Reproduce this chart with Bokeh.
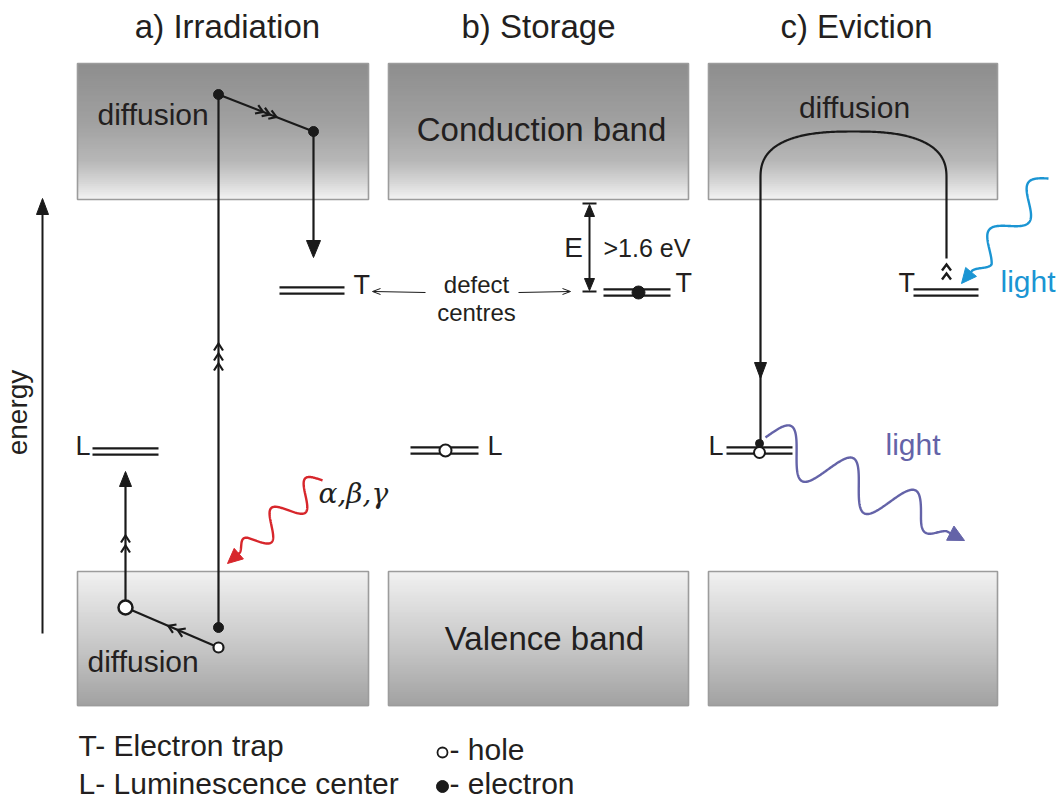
import numpy as np
from bokeh.plotting import figure
from bokeh.models import Range1d
from bokeh.core.properties import value
from bokeh.embed import file_html
from bokeh.resources import INLINE

# ---------------- content ----------------
panel_titles = ["a) Irradiation", "b) Storage", "c) Eviction"]
title_x = [227, 538, 856]
panel_left = [77, 388, 708]
panel_right = [368, 688, 997]
conduction_band = [63, 199]
valence_band = [571, 705]
band_labels = ["Conduction band", "Valence band"]
legend_left = ["T- Electron trap", "L- Luminescence center"]
legend_right = ["- hole", "- electron"]
gap_label = ">1.6 eV"
defect_label = ["defect", "centres"]
radiation_label = "\u03b1,\u03b2,\u03b3"
light_label = "light"

W, H = 1060, 801
FONT = value("Liberation Sans")
INK = "#231f20"
LINE = "#1a1a1a"
RED = "#d7262b"
BLUE = "#1b95d3"
PURPLE = "#6463a8"

p = figure(width=W, height=H, x_range=Range1d(0, W), y_range=Range1d(H, 0),
           output_backend="svg", toolbar_location=None, min_border=0,
           x_axis_type=None, y_axis_type=None)
p.grid.visible = False
p.outline_line_color = None
p.background_fill_color = "white"
p.border_fill_color = "white"


def txt(xs, ys, texts, size, align="left", color=INK, font=FONT, style="normal"):
    off = 0.37 * size
    p.text(x=list(xs), y=[yy - off for yy in ys], text=list(texts), text_font=font,
           text_font_style=style, text_font_size="%dpx" % size, text_align=align,
           text_baseline="alphabetic", text_color=color)


def band(y0, y1, stops):
    n = 70
    edges = np.linspace(y0, y1, n + 1)
    ts = (np.arange(n) + 0.5) / n
    vals = np.interp(ts, [s[0] for s in stops], [s[1] for s in stops])
    cols = ["#%02x%02x%02x" % (int(v), int(v), int(v)) for v in vals]
    for l, r in zip(panel_left, panel_right):
        p.quad(left=[l] * n, right=[r] * n, top=list(edges[:-1]),
               bottom=list(edges[1:] + 0.8), fill_color=cols, line_color=None)
        p.quad(left=[l], right=[r], top=[y0], bottom=[y1], fill_color=None,
               line_color="#9c9c9c", line_width=1.6)


band(conduction_band[0], conduction_band[1],
     [(0, 0x8e), (0.45, 0xa2), (0.72, 0xb8), (0.88, 0xd8), (1, 0xf4)])
band(valence_band[0], valence_band[1],
     [(0, 0xf2), (0.2, 0xe2), (0.6, 0xc4), (1, 0xa2)])


def seg(xs, ys, color=LINE, width=2.2):
    p.line(xs, ys, line_color=color, line_width=width, line_cap="butt")


def head(tip, d, length=14, hw=6, color=LINE):
    d = np.array(d, float)
    d /= np.linalg.norm(d)
    n = np.array([-d[1], d[0]])
    t = np.array(tip, float)
    b = t - length * d
    pts = [t, b + hw * n, b - hw * n]
    p.patch([q[0] for q in pts], [q[1] for q in pts], fill_color=color,
            line_color=color, line_width=1)


def chevron(tip, d, L=7, w=4.5, color=LINE, width=2.2):
    d = np.array(d, float)
    d /= np.linalg.norm(d)
    n = np.array([-d[1], d[0]])
    t = np.array(tip, float)
    a = t - L * d + w * n
    c = t - L * d - w * n
    p.line([a[0], t[0], c[0]], [a[1], t[1], c[1]], line_color=color,
           line_width=width, line_join="miter")


def level(x0, x1, y):
    seg([x0, x1], [y - 3.2, y - 3.2], width=2.2)
    seg([x0, x1], [y + 3.2, y + 3.2], width=2.2)


def dots(xs, ys, size, fill, lw=2):
    p.scatter(xs, ys, size=size, fill_color=fill, line_color=LINE, line_width=lw)


def wave(start, end, periods, amp, color, hlen=15, hw=7, sign=1):
    s = np.array(start, float)
    e = np.array(end, float)
    v = e - s
    L = np.linalg.norm(v)
    d = v / L
    n = np.array([-d[1], d[0]])
    t = np.linspace(0, 1, 300)
    env = np.clip((0.97 - t) / 0.14, 0, 1)
    off = sign * amp * np.sin(2 * np.pi * periods * t) * env
    tt = t * (L - hlen + 2)
    pts = s[None, :] + tt[:, None] * d[None, :] + off[:, None] * n[None, :]
    p.line(pts[:, 0], pts[:, 1], line_color=color, line_width=2.4)
    head(e, d, hlen, hw, color)


# ---------------- titles ----------------
txt(title_x, [38] * 3, panel_titles, 33, align="center")

# ---------------- energy axis ----------------
seg([42, 42], [633, 208], width=2)
head((42, 198), (0, -1), 16, 6)
p.text(x=[27 - 0.37 * 28], y=[412], text=["energy"], angle=np.pi / 2, text_font=FONT,
       text_font_size="28px", text_align="center", text_baseline="alphabetic",
       text_color=INK)

# ---------------- panel a ----------------
txt([97, 87], [125, 672], ["diffusion", "diffusion"], 30)
# excited electron path
seg([218, 218], [627, 94])
seg([218, 313], [94, 131])
for tp in [0.47, 0.54, 0.61]:
    chevron((218 + 95 * tp, 94 + 37 * tp), (95, 37))
for ty in [343, 353, 363]:
    chevron((218, ty), (0, -1))
seg([313, 313], [131, 243])
head((313, 257), (0, 1), 17, 7)
level(279, 344, 290)
txt([353, 75], [294, 455], ["T", "L"], 27)
level(92, 158, 451)
# hole path
seg([218, 125], [647, 607])
for tp in [0.44, 0.54]:
    chevron((218 - 93 * tp, 647 - 40 * tp), (-93, -40))
seg([125, 125], [607, 485])
head((125, 471), (0, -1), 15, 6)
for ty in [535, 545]:
    chevron((125, ty), (0, -1))
dots([218, 313, 218], [94, 131, 627], 10, LINE, 1)
dots([125], [607], 14, "white", 2.5)
dots([218], [647], 10, "white", 2.2)
# radiation
wave((322, 480), (227, 563), 2.5, 13, RED, 15, 7, sign=1)
txt([318], [503], [radiation_label], 28, font=value("DejaVu Serif"), style="italic")

# ---------------- panel b ----------------
txt([541, 544], [141, 650], band_labels, 33, align="center")
seg([589, 589], [210, 284], width=2)
head((589, 204), (0, -1), 12, 5)
head((589, 290), (0, 1), 12, 5)
seg([582, 596], [203, 203], width=2)
seg([582, 596], [291, 291], width=2)
txt([573], [257], ["E"], 28, align="center")
txt([603], [257], [gap_label], 25)
level(603, 670, 292)
dots([638], [292], 13, LINE, 1)
txt([675, 487], [292, 455], ["T", "L"], 27)
txt([476, 476], [293, 321], defect_label, 24, align="center")
seg([425, 373], [292, 291], width=1)
chevron((372, 291), (-1, 0), 8, 3, LINE, 1)
seg([518, 569], [292, 291], width=1)
chevron((570, 291), (1, 0), 8, 3, LINE, 1)
level(410, 478, 450)
dots([445], [450], 12, "white", 2)

# ---------------- panel c ----------------
txt([854], [118], ["diffusion"], 30, align="center")
cx, a, b, cy = 853, 93, 47, 178
th = np.linspace(np.pi, 0, 200)
c = np.cos(th)
s = np.sin(th)
ex = 2.0 / 2.6
arc_x = cx + a * np.sign(c) * np.abs(c) ** ex
arc_y = cy - b * np.abs(s) ** ex
px = np.concatenate([[760], arc_x, [946]])
py = np.concatenate([[445], arc_y, [258]])
p.line(px, py, line_color=LINE, line_width=2.2)
head((760, 378), (0, 1), 16, 6)
for ty in [264, 273]:
    chevron((946, ty), (0, -1), 6, 4.5, LINE, 2.4)
level(913, 978, 292)
level(726, 792, 450)
txt([898, 708], [292, 455], ["T", "L"], 27)
dots([759], [452], 11, "white", 2)
dots([759], [443], 8, LINE, 1)
wave((1048, 178), (961, 283), 2.0, 13, BLUE, 15, 7, sign=1)
txt([1000], [292], [light_label], 30, color=BLUE)
wave((765, 437), (964, 540), 3.0, 22, PURPLE, 16, 8, sign=-1)
txt([885], [455], [light_label], 30, color=PURPLE)

# ---------------- legend ----------------
txt([78, 78], [756, 794], legend_left, 30)
dots([442], [752], 10, "white", 1.8)
dots([442], [786], 12, LINE, 1)
txt([449, 449], [760, 794], legend_right, 30)

open("out.html", "w").write(file_html(p, INLINE))
